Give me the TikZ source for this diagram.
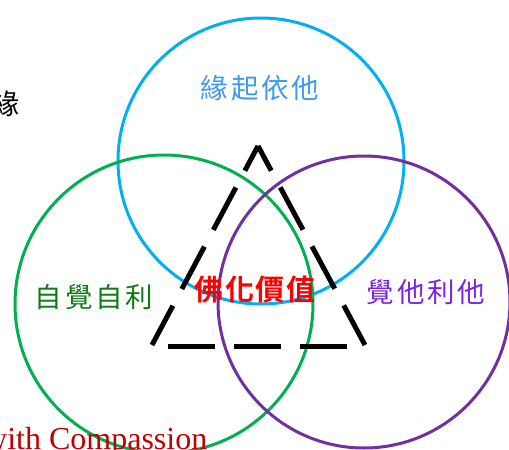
\documentclass[tikz,border=0pt]{standalone}
\usepackage{fontspec}
\usetikzlibrary{positioning}
\newfontfamily\cjk[LetterSpace=10]{Noto Sans CJK TC}
\newfontfamily\cjkbf[LetterSpace=6]{Noto Sans CJK TC Bold}
\newfontfamily\serifen{Liberation Serif}
\definecolor{ringblue}{HTML}{00B0F0}
\definecolor{ringgreen}{HTML}{00B050}
\definecolor{ringpurple}{HTML}{7030A0}
\definecolor{textblue}{HTML}{3C9AF0}
\definecolor{textgreen}{HTML}{0E7A14}
\definecolor{textpurple}{HTML}{7A22E6}
\definecolor{textred}{HTML}{C00000}

\begin{document}
\begin{tikzpicture}[
    x=1pt, y=-1pt,
    ring/.style={
        circle,
        draw=#1,
        line width=3pt,
        inner sep=0pt,
    },
    edge/.style={
        line width=5pt,
        dash pattern=on 48pt off 19pt,
    },
    motto/.style={
        font=\cjk\fontsize{27.5}{27.5}\selectfont,
        inner sep=0pt,
    }
]
    \useasboundingbox (0,0) rectangle (509,450);

    % Circles
    \node[ring=ringblue, minimum size=286pt] (origin) at (261,161) {};
    \node[ring=ringgreen, minimum size=298pt] (self) at (164,304) {};
    \node[ring=ringpurple, minimum size=292pt] (others) at (364,302) {};

    % Triangle
    \coordinate (apex) at (258,146);
    \coordinate (left) at (152,345);
    \coordinate (right) at (365,345);
    \coordinate (baseL) at (168,346);
    \coordinate (baseR) at (347,346);
    \draw[edge, dash phase=20pt] (apex) -- (left);
    \draw[edge, dash phase=20pt] (apex) -- (right);
    \draw[edge, dash pattern=on 47pt off 19pt] (baseL) -- (baseR);

    % Labels
    \node[motto, text=textblue] (arising) at (260,88) {緣起依他};
    \node[motto, text=textgreen] (selfawake) at (94,297) {自覺自利};
    \node[motto, text=textpurple] (awakeothers) at (426,292) {覺他利他};
    \node[font=\cjkbf\fontsize{29}{29}\selectfont, text=red, inner sep=0pt]
        (value) at (255,290) {佛化價值};
    \node[font=\cjk\fontsize{28}{28}\selectfont, inner sep=0pt] (cut) at (5,104) {緣};
    \node[font=\serifen\fontsize{32}{32}\selectfont, text=textred,
        anchor=base west, inner sep=0pt] (compassion) at (-16,449) {with Compassion};

\end{tikzpicture}
\end{document}
